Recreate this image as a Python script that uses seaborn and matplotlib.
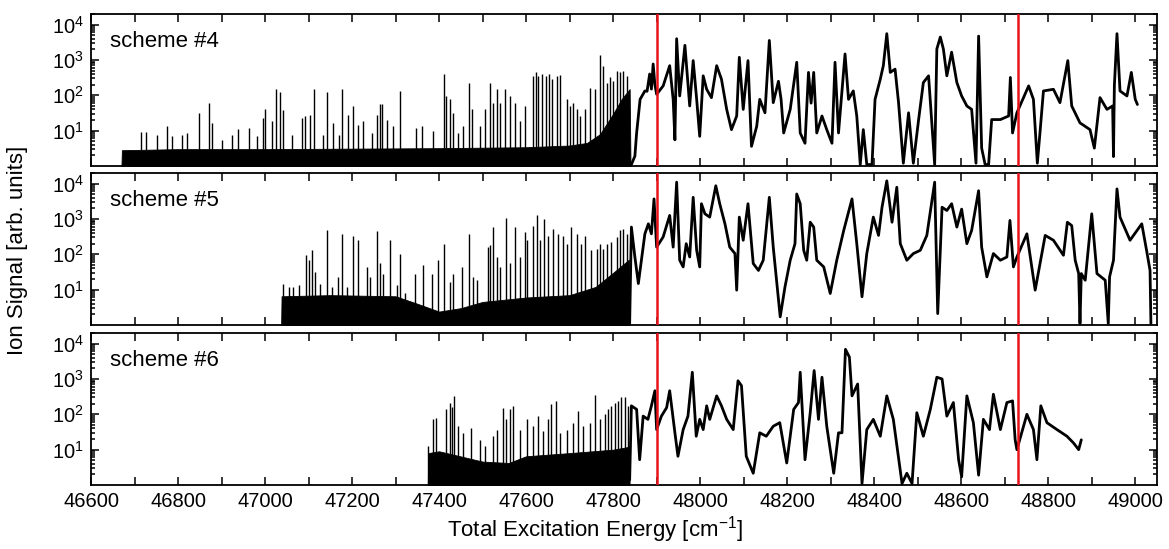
import matplotlib
matplotlib.use("Agg")
import matplotlib.pyplot as plt
import matplotlib.ticker as mticker
import numpy as np
import seaborn as sns

# ---- panel labels and marker lines ----
schemes = ["scheme #4", "scheme #5", "scheme #6"]
red_lines = [47900, 48730]
x_ticks = [46600, 46800, 47000, 47200, 47400, 47600, 47800, 48000, 48200, 48400, 48600, 48800, 49000]

# ---- scheme #4 : dense low-energy region (fill top + spikes) and continuum trace ----
s4_base_x = [46670, 46671, 46800, 47000, 47200, 47400, 47600, 47700, 47740, 47770, 47800, 47820, 47838, 47840]
s4_base_y = [1, 2.8, 3.0, 3.0, 3.1, 3.2, 3.4, 3.8, 4.5, 8, 30, 80, 150, 1]
s4_spike_x = [46714, 46726, 46751, 46774, 46786, 46808, 46820, 46848, 46871, 46877, 46900, 46923, 46939, 46962,
              46981, 46995, 47000, 47015, 47025, 47034, 47042, 47061, 47084, 47092, 47103, 47113, 47133, 47142,
              47157, 47170, 47178, 47191, 47203, 47214, 47226, 47245, 47257, 47264, 47268, 47280, 47295,
              47310, 47348, 47360, 47387, 47411, 47417, 47425, 47433, 47444, 47456, 47469, 47475, 47494, 47505,
              47517, 47524, 47532, 47540, 47551, 47563, 47574, 47586, 47597, 47615, 47623, 47628, 47636, 47645,
              47653, 47659, 47670, 47678, 47693, 47701, 47708, 47716, 47724, 47735, 47747, 47758, 47770, 47777,
              47785, 47793, 47800, 47808, 47816, 47823, 47831]
s4_spike_y = [9, 9, 7.7, 13.3, 6.9, 7.7, 8.6, 30.6, 62, 16.6, 5.5, 7.7, 11, 11.9,
              6.9, 23, 40, 18.5, 155, 124, 38, 7.7, 23, 26, 28.6, 155, 7.7, 124,
              16.6, 7.7, 148, 28.6, 50, 14.8, 18.5, 8.6, 28.6, 55, 55, 20.6, 13.3,
              133, 12, 13.3, 9.6, 400, 96, 77, 32, 8.6, 13.3, 230, 40, 13.3, 40,
              230, 62, 148, 62, 148, 96, 62, 18.5, 50, 356, 445, 356, 400, 356,
              400, 286, 356, 370, 77, 50, 62, 40, 26, 40, 165, 148, 1390, 690,
              230, 320, 260, 500, 445, 500, 356]
s4_x = [47842, 47850, 47854, 47862, 47873, 47878, 47884, 47888, 47892, 47896, 47900, 47915, 47930, 47938,
        47942, 47946, 47953, 47965, 47976, 47984, 47992, 47999, 48007, 48015, 48026, 48038, 48049, 48061,
        48072, 48084, 48090, 48099, 48110, 48118, 48130, 48137, 48149, 48159, 48168, 48180, 48186, 48192,
        48207, 48222, 48230, 48241, 48249, 48255, 48261, 48268, 48280, 48291, 48303, 48310, 48318, 48333,
        48341, 48352, 48360, 48368, 48375, 48383, 48395, 48402, 48414, 48421, 48429, 48437, 48448, 48456,
        48467, 48479, 48490, 48502, 48513, 48525, 48539, 48544, 48552, 48559, 48567, 48578, 48590, 48601,
        48613, 48624, 48634, 48640, 48647, 48655, 48663, 48670, 48690, 48709, 48713, 48718, 48728, 48755,
        48766, 48775, 48781, 48789, 48812, 48827, 48845, 48854, 48873, 48896, 48906, 48919, 48935, 48948,
        48950, 48952, 48958, 48965, 48981, 48991, 49000, 49005]
s4_y = [1.1, 1.9, 8.6, 77, 133, 130, 400, 150, 770, 200, 107, 185, 690, 77,
        5.5, 4000, 96, 2600, 50, 960, 77, 6.9, 356, 148, 86, 690, 286, 40,
        10.7, 26, 1190, 40, 960, 3.6, 13.3, 77, 32, 3570, 62, 250, 77, 8.6,
        40, 860, 8.6, 4.4, 445, 60, 445, 8.6, 26, 10.7, 4.4, 860, 8.6, 1480,
        77, 133, 26, 1.1, 10.7, 1.1, 1.1, 77, 286, 690, 5550, 445, 550, 62,
        1.2, 32, 1.2, 20, 230, 356, 1.1, 2050, 4450, 2050, 356, 1660, 230, 96,
        50, 40, 1.2, 4740, 3.2, 1.1, 1.1, 20.6, 20.6, 26, 320, 8.6, 32, 185,
        77, 1.2, 8.6, 133, 148, 62, 960, 50, 16.6, 10.7, 3.2, 86, 40, 50,
        1.85, 185, 5550, 133, 96, 445, 77, 55]

# ---- scheme #5 ----
s5_base_x = [47037, 47038, 47150, 47300, 47350, 47400, 47450, 47500, 47600, 47700, 47760, 47800, 47836, 47838]
s5_base_y = [1, 6.5, 7, 6.5, 4, 2.4, 3, 4.5, 6, 7, 12, 30, 70, 1]
s5_spike_x = [47042, 47054, 47065, 47077, 47094, 47102, 47107, 47115, 47126, 47142, 47153, 47168, 47176, 47188,
              47203, 47214, 47234, 47241, 47257, 47264, 47272, 47287, 47303,
              47310, 47321, 47344, 47362, 47383, 47398, 47411, 47425, 47433, 47452, 47469, 47479, 47488, 47513,
              47517, 47523, 47532, 47540, 47553, 47563, 47574, 47587, 47597, 47603, 47615, 47624, 47632, 47642,
              47651, 47662, 47674, 47684, 47693, 47704, 47716, 47727, 47735, 47750, 47762, 47770, 47777, 47785,
              47796, 47808, 47816, 47823, 47831]
s5_spike_y = [14.9, 12, 12, 13.4, 98, 68, 130, 32, 14.9, 495, 12, 23, 365, 12,
              320, 250, 44, 23, 445, 55, 28.5, 250, 13.4,
              105, 7.8, 28.5, 49, 28.5, 71, 200, 16.6, 28.5, 44, 365, 23, 18.5, 160,
              180, 590, 84, 44, 1080, 55, 590, 84, 425, 250, 650, 1260, 250, 1000,
              320, 530, 380, 320, 200, 590, 380, 200, 320, 130, 145, 200, 145, 200,
              220, 310, 475, 530, 380]
s5_x = [47838, 47842, 47850, 47858, 47865, 47873, 47881, 47888, 47894, 47900, 47915, 47930, 47938, 47946,
        47953, 47961, 47968, 47976, 47984, 47992, 47999, 48003, 48011, 48022, 48036, 48045, 48057, 48068,
        48080, 48084, 48090, 48099, 48110, 48122, 48134, 48145, 48159, 48168, 48184, 48195, 48207, 48218,
        48222, 48230, 48238, 48245, 48253, 48261, 48268, 48284, 48299, 48314, 48330, 48349, 48360, 48372,
        48383, 48398, 48410, 48418, 48429, 48441, 48452, 48460, 48475, 48490, 48506, 48521, 48539, 48546,
        48556, 48567, 48578, 48590, 48601, 48613, 48624, 48640, 48647, 48659, 48674, 48690, 48705, 48712,
        48720, 48728, 48751, 48770, 48793, 48812, 48835, 48844, 48854, 48862, 48870, 48873, 48876, 48885,
        48900, 48912, 48931, 48938, 48941, 48950, 48958, 48965, 48988, 49015, 49026, 49034, 49036]
s5_y = [1.1, 590, 84, 14.9, 68, 380, 730, 380, 3700, 160, 310, 1260, 160, 11000,
        68, 44, 200, 84, 4100, 130, 44, 2700, 1400, 1130, 8700, 2700, 730, 160,
        105, 9.7, 1130, 250, 2700, 55, 35, 68, 4100, 160, 1.7, 12, 68, 200,
        5100, 2700, 130, 68, 810, 590, 68, 44, 7.8, 68, 475, 3700, 200, 6.3,
        105, 1130, 343, 2150, 12000, 810, 7900, 200, 68, 105, 130, 343, 11000, 2.1,
        2150, 1740, 2700, 590, 1900, 200, 475, 6300, 160, 23, 105, 68, 84, 910,
        44, 84, 380, 9.7, 343, 250, 94, 810, 650, 68, 28.5, 1.1, 28.5, 18.5,
        1400, 28.5, 18.5, 1.1, 23, 68, 7100, 1130, 250, 730, 130, 35, 1.1]

# ---- scheme #6 ----
s6_base_x = [47374, 47375, 47400, 47500, 47560, 47600, 47700, 47800, 47836, 47838]
s6_base_y = [1, 8, 9, 4.6, 4.2, 6.5, 8, 10, 12, 1]
s6_spike_x = [47375, 47386, 47394, 47417, 47425, 47429, 47435, 47444, 47455, 47474, 47494, 47505, 47523, 47532,
              47547, 47553, 47563, 47570, 47586, 47601, 47616, 47628, 47639, 47651, 47658, 47668, 47677, 47693,
              47708, 47720, 47731, 47746, 47758, 47769, 47781, 47789, 47796, 47804, 47812, 47819, 47827, 47835]
s6_spike_y = [12.4, 72, 80, 138, 215, 166, 333, 46, 30, 41.5, 19, 12.4, 24, 37,
              155, 72, 138, 174, 37, 72, 46, 89, 33, 72, 193, 240, 30, 37,
              58, 125, 46, 58, 348, 72, 100, 138, 174, 215, 240, 300, 300, 174]
s6_x = [47838, 47842, 47854, 47861, 47869, 47880, 47888, 47896, 47900, 47911, 47923, 47930, 47942, 47949,
        47961, 47972, 47982, 47991, 47999, 48007, 48015, 48022, 48038, 48049, 48061, 48076, 48087, 48095,
        48106, 48122, 48137, 48152, 48168, 48183, 48199, 48215, 48226, 48230, 48241, 48253, 48262, 48272,
        48280, 48291, 48307, 48318, 48326, 48334, 48343, 48349, 48362, 48372, 48383, 48398, 48414, 48429,
        48444, 48464, 48475, 48487, 48498, 48513, 48529, 48544, 48556, 48567, 48582, 48594, 48601, 48613,
        48628, 48640, 48651, 48665, 48674, 48690, 48705, 48718, 48724, 48728, 48751, 48766, 48774, 48783,
        48797, 48820, 48843, 48858, 48870, 48876]
s6_y = [1.4, 174, 138, 5.2, 89, 72, 174, 465, 37, 89, 155, 465, 30, 6.5,
        37, 89, 1550, 24, 72, 37, 174, 72, 333, 174, 72, 37, 890, 645,
        6.5, 2.15, 30, 24, 46, 58, 4.2, 138, 215, 1550, 5.2, 111, 1730, 72,
        1120, 46, 2.15, 30, 30, 6900, 4170, 333, 720, 1.1, 37, 72, 24, 333,
        72, 1.1, 2.15, 1.1, 111, 24, 138, 1120, 1000, 89, 215, 5.2, 1.7, 333,
        58, 1.9, 72, 37, 370, 37, 215, 240, 19, 10, 100, 37, 5.2, 174,
        58, 37, 24, 15.5, 10, 19]

panels = [
    (s4_base_x, s4_base_y, s4_spike_x, s4_spike_y, s4_x, s4_y),
    (s5_base_x, s5_base_y, s5_spike_x, s5_spike_y, s5_x, s5_y),
    (s6_base_x, s6_base_y, s6_spike_x, s6_spike_y, s6_x, s6_y),
]

sns.set_theme(style="ticks")
plt.rcParams['font.family'] = ['Liberation Sans', 'DejaVu Sans']
plt.rcParams['mathtext.fontset'] = 'custom'
plt.rcParams['mathtext.rm'] = 'Liberation Sans'
for key in ['text.color', 'axes.labelcolor', 'xtick.color', 'ytick.color', 'axes.edgecolor']:
    plt.rcParams[key] = 'black'

W, H = 1169, 549
fig = plt.figure(figsize=(W / 100, H / 100), dpi=100)

# axes boxes in pixels (top, bottom)
boxes = [(14, 166), (173, 325), (333, 485)]
left_px, right_px = 91, 1157

for i, (bx, by, sx, sy, tx, ty) in enumerate(panels):
    top, bot = boxes[i]
    ax = fig.add_axes([left_px / W, 1 - bot / H, (right_px - left_px) / W, (bot - top) / H])

    ax.fill_between(bx, 1, by, color='black', lw=0.6, edgecolor='black')
    ax.vlines(sx, 1, sy, color='black', lw=1.0)
    sns.lineplot(x=tx, y=ty, ax=ax, color='black', lw=2.0, estimator=None, sort=False)

    for xr in red_lines:
        ax.axvline(xr, color='#e8141b', lw=1.8, zorder=5)

    ax.set_yscale('log')
    ax.set_ylim(1, 2e4)
    ax.set_xlim(46600, 49050)
    ax.set_yticks([10, 100, 1000, 10000])
    ax.yaxis.set_major_formatter(mticker.LogFormatterMathtext())
    ax.yaxis.set_minor_locator(mticker.LogLocator(base=10, subs=np.arange(2, 10), numticks=20))
    ax.yaxis.set_minor_formatter(mticker.NullFormatter())
    ax.set_xticks(x_ticks)
    ax.xaxis.set_minor_locator(mticker.MultipleLocator(100))
    ax.tick_params(which='both', direction='in', top=True, right=True, width=1.1, labelsize=14.5, pad=5)
    ax.tick_params(which='major', length=6)
    ax.tick_params(axis='x', which='minor', length=6)
    ax.tick_params(axis='y', which='minor', length=3)
    for sp in ax.spines.values():
        sp.set_linewidth(1.3)
    if i < 2:
        ax.tick_params(labelbottom=False)
    ax.set_xlabel('')
    ax.set_ylabel('')
    ax.text(0.018, 0.82, schemes[i], transform=ax.transAxes, fontsize=16, va='center', ha='left')

fig.text(595 / W, 1 - 530 / H, 'Total Excitation Energy [cm$^{-1}$]', fontsize=16, ha='center', va='center')
fig.text(18 / W, 1 - 250 / H, 'Ion Signal [arb. units]', fontsize=16, ha='center', va='center', rotation=90)

fig.savefig('out.png', dpi=100)
